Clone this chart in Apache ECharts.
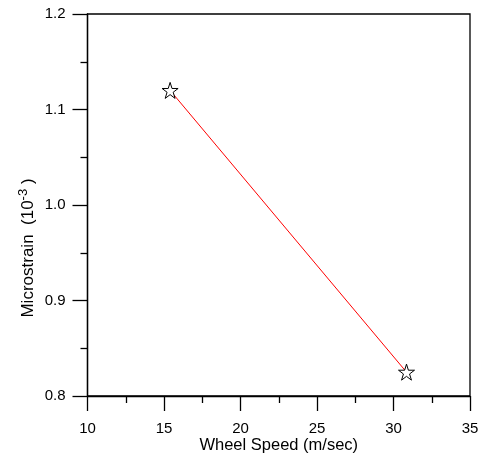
<!DOCTYPE html>
<html>
<head>
<meta charset="utf-8">
<script src="https://cdn.jsdelivr.net/npm/echarts@6/dist/echarts.min.js"></script>
<style>
  html, body { margin: 0; padding: 0; background: #fff; }
  #chart { width: 482px; height: 461px; }
</style>
</head>
<body>
<div id="chart"></div>
<script>
// wheel speed (m/sec) vs microstrain (10^-3)
var speeds = [15.4, 30.85];
var strains = [1.12, 0.825];

var xTicks = [10, 15, 20, 25, 30, 35];
var yTicks = [0.8, 0.9, 1.0, 1.1, 1.2];

var star = 'path://M50,0 L61.8,36.2 L100,36.2 L69.1,58.6 L80.9,95.1 L50,72.7 L19.1,95.1 L30.9,58.6 L0,36.2 L38.2,36.2 Z';
var font = 'Liberation Sans';

var chart = echarts.init(document.getElementById('chart'), null, { renderer: 'canvas' });

var pts = speeds.map(function (s, i) { return [s, strains[i]]; });

chart.setOption({
  animation: false,
  backgroundColor: '#fff',
  grid: {
    left: 87.5, top: 14, right: 12, bottom: 65,
    outerBoundsMode: 'none',
    containLabel: false,
    show: true, borderColor: '#000', borderWidth: 1.3, backgroundColor: 'transparent'
  },
  xAxis: {
    type: 'value',
    min: xTicks[0], max: xTicks[xTicks.length - 1], interval: 5,
    name: 'Wheel Speed (m/sec)',
    nameLocation: 'middle',
    nameGap: 41,
    nameMoveOverlap: false,
    nameTextStyle: { fontFamily: font, fontSize: 16.5, color: '#000', verticalAlign: 'top' },
    axisLine: { lineStyle: { color: '#000', width: 1.3 } },
    axisTick: { length: 15, lineStyle: { color: '#000', width: 1.3 } },
    minorTick: { show: true, splitNumber: 2, length: 7, lineStyle: { color: '#000', width: 1.3 } },
    axisLabel: { margin: 25, fontFamily: font, fontSize: 15, color: '#000' },
    splitLine: { show: false }
  },
  yAxis: {
    type: 'value',
    min: yTicks[0], max: yTicks[yTicks.length - 1], interval: 0.1,
    axisLine: { lineStyle: { color: '#000', width: 1.3 } },
    axisTick: { length: 15, lineStyle: { color: '#000', width: 1.3 } },
    minorTick: { show: true, splitNumber: 2, length: 7, lineStyle: { color: '#000', width: 1.3 } },
    axisLabel: {
      margin: 22, fontFamily: font, fontSize: 15, color: '#000',
      formatter: function (v) { return v.toFixed(1); }
    },
    splitLine: { show: false }
  },
  graphic: [{
    type: 'text',
    x: 28, y: 248,
    rotation: Math.PI / 2,
    style: {
      text: 'Microstrain  (10{sup|-3} )',
      font: '17px "Liberation Sans"',
      fill: '#000',
      align: 'center',
      verticalAlign: 'middle',
      rich: {
        sup: { fontSize: 13, fontFamily: font, verticalAlign: 'top', padding: [0, 0, 10, 0] }
      }
    }
  }],
  series: [{
    type: 'line',
    data: pts,
    symbol: star,
    symbolSize: 16,
    itemStyle: { color: '#fff', borderColor: '#000', borderWidth: 1 },
    lineStyle: { color: '#ff0000', width: 1 },
    z: 3
  }]
});
</script>
</body>
</html>
